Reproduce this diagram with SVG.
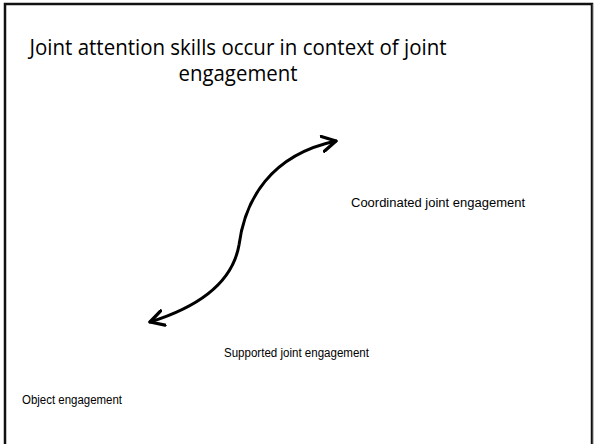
<svg xmlns="http://www.w3.org/2000/svg" width="594" height="444" viewBox="0 0 594 444">
  <style>
    .title { font-family: "Open Sans", "Noto Sans", sans-serif; font-size: 21px; fill: #000; }
    .label { font-family: "Liberation Sans", Arial, sans-serif; font-size: 12px; fill: #000; }
    .curve { fill: none; stroke: #000; stroke-width: 3; stroke-linecap: round; }
  </style>
  <defs>
    <marker id="chevron" viewBox="0 0 12 12" refX="10" refY="6" markerWidth="6" markerHeight="6" markerUnits="strokeWidth" orient="auto-start-reverse">
      <path d="M1,1 L10,6 L1,11" fill="none" stroke="#000" stroke-width="2.2" stroke-linecap="round" stroke-linejoin="round"/>
    </marker>
  </defs>
  <rect width="594" height="444" fill="#fff"/>
  <!-- slide frame -->
  <path d="M5,450 L5,4 L592,4 L592,450" fill="none" stroke="#111" stroke-width="2.5"/>
  <path d="M592.5,4 L592.5,450" fill="none" stroke="#444" stroke-width="1"/>

  <g id="title">
    <text class="title" x="238" y="55" text-anchor="middle" textLength="417" lengthAdjust="spacingAndGlyphs">Joint attention skills occur in context of joint</text>
    <text class="title" x="238" y="81" text-anchor="middle" textLength="119" lengthAdjust="spacingAndGlyphs">engagement</text>
  </g>

  <g id="connectors">
    <path class="curve" d="M150,322 C195,308 232,285 239,245 C245,200 270,155 336,141" marker-start="url(#chevron)" marker-end="url(#chevron)"/>
  </g>

  <g id="coordinated">
    <text class="label" x="351" y="207" textLength="174" lengthAdjust="spacingAndGlyphs">Coordinated joint engagement</text>
  </g>
  <g id="supported">
    <text class="label" x="224" y="357" textLength="145" lengthAdjust="spacingAndGlyphs">Supported joint engagement</text>
  </g>
  <g id="object">
    <text class="label" x="22" y="404" textLength="100" lengthAdjust="spacingAndGlyphs">Object engagement</text>
  </g>
</svg>
